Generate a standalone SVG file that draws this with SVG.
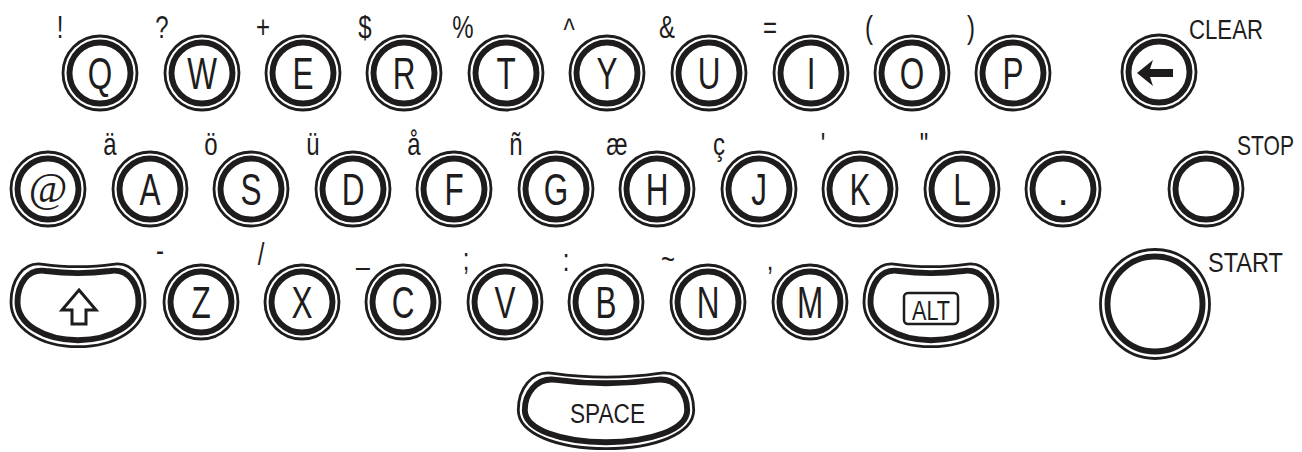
<svg xmlns="http://www.w3.org/2000/svg" width="1302" height="452" viewBox="0 0 1302 452">
<defs>
<style>
.ro{fill:none;stroke:#1e1c1d;stroke-width:2.8}
.ri{fill:none;stroke:#1e1c1d;stroke-width:5.9}
.k{font-family:"Liberation Sans",Arial,sans-serif;font-size:45px;text-anchor:middle;fill:#1e1c1d}
.s{font-family:"Liberation Sans",Arial,sans-serif;font-size:32px;text-anchor:middle;fill:#1e1c1d}
.lb{font-family:"Liberation Sans",Arial,sans-serif;font-size:27px;fill:#1e1c1d}
.at{font-family:"Liberation Serif","Times New Roman",serif;font-size:42px;text-anchor:middle;fill:#1e1c1d}
</style>
<path id="ovo" d="M -35,-37.7 C -14,-34.5 14,-34.5 35,-37.7 C 56,-41 67,-20 67,0 C 67,26 38,44.7 0,44.7 C -38,44.7 -67,26 -67,0 C -67,-20 -56,-41 -35,-37.7 Z"/>
<path id="ovi" d="M -32,-31 C -13,-28.5 13,-28.5 32,-31 C 51,-34 60.5,-17 60.5,0 C 60.5,22 34,38.2 0,38.2 C -34,38.2 -60.5,22 -60.5,0 C -60.5,-17 -51,-34 -32,-31 Z"/>
</defs>
<rect width="1302" height="452" fill="#ffffff"/>

<!-- Row 1 -->
<g id="key-Q"><circle cx="100" cy="73" r="37" class="ro"/><circle cx="100" cy="73" r="30.5" class="ri"/><text class="k" transform="translate(100,89) scale(0.7,1)">Q</text><text class="s" transform="translate(60,38) scale(0.75,1)">!</text></g>
<g id="key-W"><circle cx="202" cy="73" r="37" class="ro"/><circle cx="202" cy="73" r="30.5" class="ri"/><text class="k" transform="translate(202,89) scale(0.7,1)">W</text><text class="s" transform="translate(162,38) scale(0.75,1)">?</text></g>
<g id="key-E"><circle cx="303" cy="73" r="37" class="ro"/><circle cx="303" cy="73" r="30.5" class="ri"/><text class="k" transform="translate(303,89) scale(0.7,1)">E</text><text class="s" transform="translate(263,38) scale(0.75,1)">+</text></g>
<g id="key-R"><circle cx="404" cy="73" r="37" class="ro"/><circle cx="404" cy="73" r="30.5" class="ri"/><text class="k" transform="translate(404,89) scale(0.7,1)">R</text><text class="s" transform="translate(365,38) scale(0.75,1)">$</text></g>
<g id="key-T"><circle cx="506" cy="73" r="37" class="ro"/><circle cx="506" cy="73" r="30.5" class="ri"/><text class="k" transform="translate(506,89) scale(0.7,1)">T</text><text class="s" transform="translate(463,38) scale(0.75,1)">%</text></g>
<g id="key-Y"><circle cx="607" cy="73" r="37" class="ro"/><circle cx="607" cy="73" r="30.5" class="ri"/><text class="k" transform="translate(607,89) scale(0.7,1)">Y</text><text class="s" transform="translate(569,40) scale(0.75,1)">^</text></g>
<g id="key-U"><circle cx="709" cy="73" r="37" class="ro"/><circle cx="709" cy="73" r="30.5" class="ri"/><text class="k" transform="translate(709,89) scale(0.7,1)">U</text><text class="s" transform="translate(667,38) scale(0.75,1)">&amp;</text></g>
<g id="key-I"><circle cx="811" cy="73" r="37" class="ro"/><circle cx="811" cy="73" r="30.5" class="ri"/><text class="k" transform="translate(811,89) scale(0.7,1)">I</text><text class="s" transform="translate(770,38) scale(0.75,1)">=</text></g>
<g id="key-O"><circle cx="912" cy="73" r="37" class="ro"/><circle cx="912" cy="73" r="30.5" class="ri"/><text class="k" transform="translate(912,89) scale(0.7,1)">O</text><text class="s" transform="translate(869,38) scale(0.75,1)">(</text></g>
<g id="key-P"><circle cx="1013" cy="73" r="37" class="ro"/><circle cx="1013" cy="73" r="30.5" class="ri"/><text class="k" transform="translate(1013,89) scale(0.7,1)">P</text><text class="s" transform="translate(971,38) scale(0.75,1)">)</text></g>
<g id="key-CLEAR"><circle cx="1159" cy="72" r="37" class="ro"/><circle cx="1159" cy="72" r="30.5" class="ri"/><path d="M1137,73 L1153,60 L1150,69 L1173,69 L1173,77 L1150,77 L1153,86 Z" fill="#1e1c1d"/><text class="lb" x="1189" y="39" textLength="74" lengthAdjust="spacingAndGlyphs">CLEAR</text></g>

<!-- Row 2 -->
<g id="key-at"><circle cx="48" cy="189" r="37" class="ro"/><circle cx="48" cy="189" r="30.5" class="ri"/><text class="at" x="48" y="202">@</text></g>
<g id="key-A"><circle cx="150" cy="189" r="37" class="ro"/><circle cx="150" cy="189" r="30.5" class="ri"/><text class="k" transform="translate(150,205) scale(0.7,1)">A</text><text class="s" transform="translate(110,155) scale(0.75,1)">ä</text></g>
<g id="key-S"><circle cx="251" cy="189" r="37" class="ro"/><circle cx="251" cy="189" r="30.5" class="ri"/><text class="k" transform="translate(251,205) scale(0.7,1)">S</text><text class="s" transform="translate(211,155) scale(0.75,1)">ö</text></g>
<g id="key-D"><circle cx="353" cy="189" r="37" class="ro"/><circle cx="353" cy="189" r="30.5" class="ri"/><text class="k" transform="translate(353,205) scale(0.7,1)">D</text><text class="s" transform="translate(313,155) scale(0.75,1)">ü</text></g>
<g id="key-F"><circle cx="454" cy="189" r="37" class="ro"/><circle cx="454" cy="189" r="30.5" class="ri"/><text class="k" transform="translate(454,205) scale(0.7,1)">F</text><text class="s" transform="translate(414,155) scale(0.75,1)">å</text></g>
<g id="key-G"><circle cx="556" cy="189" r="37" class="ro"/><circle cx="556" cy="189" r="30.5" class="ri"/><text class="k" transform="translate(556,205) scale(0.7,1)">G</text><text class="s" transform="translate(516,155) scale(0.75,1)">ñ</text></g>
<g id="key-H"><circle cx="657" cy="189" r="37" class="ro"/><circle cx="657" cy="189" r="30.5" class="ri"/><text class="k" transform="translate(657,205) scale(0.7,1)">H</text><text class="s" transform="translate(617,155) scale(0.75,1)">æ</text></g>
<g id="key-J"><circle cx="759" cy="189" r="37" class="ro"/><circle cx="759" cy="189" r="30.5" class="ri"/><text class="k" transform="translate(759,205) scale(0.7,1)">J</text><text class="s" transform="translate(719,155) scale(0.75,1)">ç</text></g>
<g id="key-K"><circle cx="860" cy="189" r="37" class="ro"/><circle cx="860" cy="189" r="30.5" class="ri"/><text class="k" transform="translate(860,205) scale(0.7,1)">K</text><text class="s" transform="translate(823,155) scale(0.75,1)">'</text></g>
<g id="key-L"><circle cx="962" cy="189" r="37" class="ro"/><circle cx="962" cy="189" r="30.5" class="ri"/><text class="k" transform="translate(962,205) scale(0.7,1)">L</text><text class="s" transform="translate(924,155) scale(0.75,1)">"</text></g>
<g id="key-period"><circle cx="1063" cy="189" r="37" class="ro"/><circle cx="1063" cy="189" r="30.5" class="ri"/><text class="k" transform="translate(1063,205) scale(0.9,1)">.</text></g>
<g id="key-STOP"><circle cx="1206" cy="189" r="37" class="ro"/><circle cx="1206" cy="189" r="30.5" class="ri"/><text class="lb" transform="translate(1237,155) scale(0.78,1)">STOP</text></g>

<!-- Row 3 -->
<g id="key-SHIFT"><use href="#ovo" transform="translate(78,302)" class="ro"/><use href="#ovi" transform="translate(78,302)" class="ri"/><path d="M79,290 L96,310 L86,310 L86,324 L72,324 L72,310 L62,310 Z" fill="#ffffff" stroke="#1e1c1d" stroke-width="3" stroke-linejoin="miter"/></g>
<g id="key-Z"><circle cx="201" cy="302" r="37" class="ro"/><circle cx="201" cy="302" r="30.5" class="ri"/><text class="k" transform="translate(201,318) scale(0.7,1)">Z</text><text class="s" transform="translate(160,261) scale(0.75,1)">-</text></g>
<g id="key-X"><circle cx="302" cy="302" r="37" class="ro"/><circle cx="302" cy="302" r="30.5" class="ri"/><text class="k" transform="translate(302,318) scale(0.7,1)">X</text><text class="s" transform="translate(261,265) scale(0.75,1)">/</text></g>
<g id="key-C"><circle cx="403" cy="302" r="37" class="ro"/><circle cx="403" cy="302" r="30.5" class="ri"/><text class="k" transform="translate(403,318) scale(0.7,1)">C</text><text class="s" transform="translate(363,264) scale(0.75,1)">_</text></g>
<g id="key-V"><circle cx="505" cy="302" r="37" class="ro"/><circle cx="505" cy="302" r="30.5" class="ri"/><text class="k" transform="translate(505,318) scale(0.7,1)">V</text><text class="s" transform="translate(466,270) scale(0.75,1)">;</text></g>
<g id="key-B"><circle cx="606" cy="302" r="37" class="ro"/><circle cx="606" cy="302" r="30.5" class="ri"/><text class="k" transform="translate(606,318) scale(0.7,1)">B</text><text class="s" transform="translate(566,271) scale(0.75,1)">:</text></g>
<g id="key-N"><circle cx="708" cy="302" r="37" class="ro"/><circle cx="708" cy="302" r="30.5" class="ri"/><text class="k" transform="translate(708,318) scale(0.7,1)">N</text><text class="s" transform="translate(668,270) scale(0.75,1)">~</text></g>
<g id="key-M"><circle cx="810" cy="302" r="37" class="ro"/><circle cx="810" cy="302" r="30.5" class="ri"/><text class="k" transform="translate(810,318) scale(0.7,1)">M</text><text class="s" transform="translate(770,270) scale(0.75,1)">,</text></g>
<g id="key-ALT"><use href="#ovo" transform="translate(931,302)" class="ro"/><use href="#ovi" transform="translate(931,302)" class="ri"/><rect x="904" y="293" width="54" height="31" rx="4" fill="none" stroke="#1e1c1d" stroke-width="2.5"/><text class="lb" x="912" y="320" font-size="30" textLength="38" lengthAdjust="spacingAndGlyphs">ALT</text></g>
<g id="key-START"><circle cx="1155" cy="304" r="54.5" class="ro" stroke-width="3"/><circle cx="1155" cy="304" r="47.5" class="ri" stroke-width="6.3"/><text class="lb" x="1208" y="272" textLength="75" lengthAdjust="spacingAndGlyphs">START</text></g>

<!-- Row 4 -->
<g id="key-SPACE"><path transform="translate(606,410)" class="ro" d="M -53,-36.7 C -20,-32 20,-32 53,-36.7 C 75,-40 87.7,-20 87.7,0 C 87.7,24 48,38.7 0,38.7 C -48,38.7 -87.7,24 -87.7,0 C -87.7,-20 -75,-40 -53,-36.7 Z"/><path transform="translate(606,410)" class="ri" d="M -50,-30.2 C -19,-26 19,-26 50,-30.2 C 70,-33 81.2,-16 81.2,0 C 81.2,20 44,32.2 0,32.2 C -44,32.2 -81.2,20 -81.2,0 C -81.2,-16 -70,-33 -50,-30.2 Z"/><text class="lb" x="570" y="423" textLength="75" lengthAdjust="spacingAndGlyphs">SPACE</text></g>
</svg>
